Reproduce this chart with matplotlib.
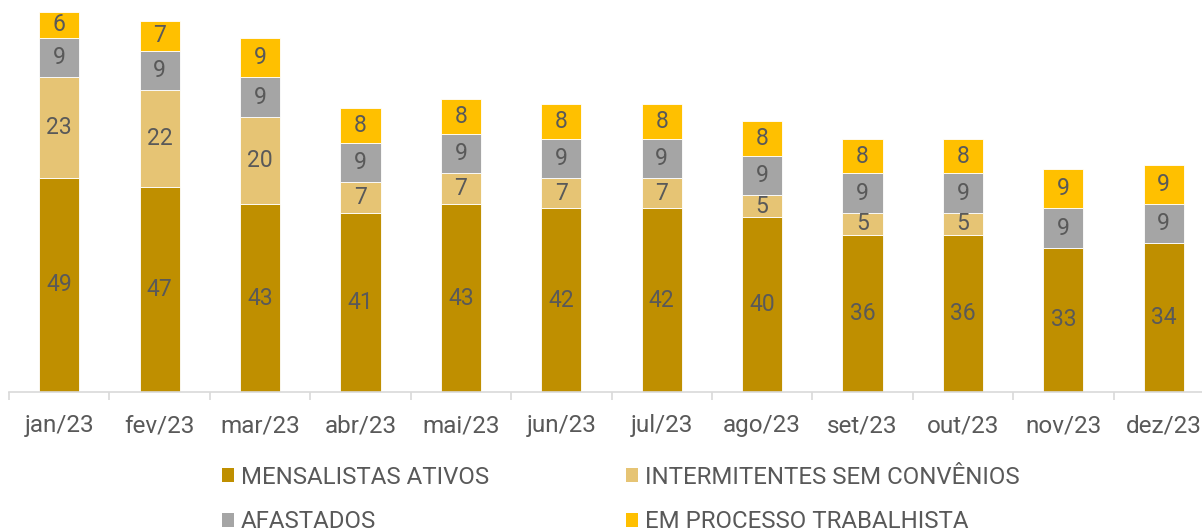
import numpy as np
import matplotlib.pyplot as plt
from matplotlib.patches import Patch

plt.rcParams['font.family'] = ['Roboto', 'DejaVu Sans']

# data
months = ['jan/23', 'fev/23', 'mar/23', 'abr/23', 'mai/23', 'jun/23',
          'jul/23', 'ago/23', 'set/23', 'out/23', 'nov/23', 'dez/23']
mensalistas = [49, 47, 43, 41, 43, 42, 42, 40, 36, 36, 33, 34]
intermitentes = [23, 22, 20, 7, 7, 7, 7, 5, 5, 5, 0, 0]
afastados = [9, 9, 9, 9, 9, 9, 9, 9, 9, 9, 9, 9]
processo = [6, 7, 9, 8, 8, 8, 8, 8, 8, 8, 9, 9]

series = [('MENSALISTAS ATIVOS', mensalistas, '#BF8F00'),
          ('INTERMITENTES SEM CONVÊNIOS', intermitentes, '#E6C474'),
          ('AFASTADOS', afastados, '#A5A5A5'),
          ('EM PROCESSO TRABALHISTA', processo, '#FFC000')]

txt = '#595959'
W, H = 1202, 531
fig = plt.figure(figsize=(W / 100, H / 100), dpi=100)
ax = fig.add_axes([9 / W, 139 / H, 1205 / W, 392 / H])

x = np.arange(len(months))
bottom = np.zeros(len(months))
for name, vals, col in series:
    vals = np.array(vals, dtype=float)
    ax.bar(x, vals, 0.4, bottom=bottom, color=col, edgecolor='white', linewidth=0.6)
    for xi, b, v in zip(x, bottom, vals):
        if v > 0:
            ax.text(xi, b + v / 2, f'{v:.0f}', ha='center', va='center',
                    fontsize=16.5, color=txt)
    bottom += vals

ax.set_xlim(-0.5, len(months) - 0.5)
ax.set_ylim(0, 89.7)
for s in ['top', 'right', 'left']:
    ax.spines[s].set_visible(False)
ax.spines['bottom'].set_color('#D9D9D9')
ax.spines['bottom'].set_linewidth(1.2)
ax.set_yticks([])

# boundary ticks, labels in the middle
ax.set_xticks(np.arange(-0.5, len(months), 1.0))
ax.set_xticklabels([])
ax.tick_params(axis='x', which='major', length=6, width=1.2, color='#D9D9D9')
ax.set_xticks(x, minor=True)
ax.set_xticklabels(months, minor=True, fontsize=17.5, color=txt)
ax.tick_params(axis='x', which='minor', length=0, pad=16)

# legend filled row by row, like the original (second row runs off the bottom there too)
order = [0, 2, 1, 3]
handles = [Patch(facecolor=series[i][2], label=series[i][0]) for i in order]
fig.legend(handles=handles, ncol=2, loc='upper left',
           bbox_to_anchor=(200 / W, 1 - 444 / H), frameon=False,
           fontsize=17.3, labelcolor=txt, handlelength=0.5, handleheight=0.5,
           handletextpad=0.3, columnspacing=5.7, labelspacing=0.9)

fig.savefig('out.png', dpi=100)
